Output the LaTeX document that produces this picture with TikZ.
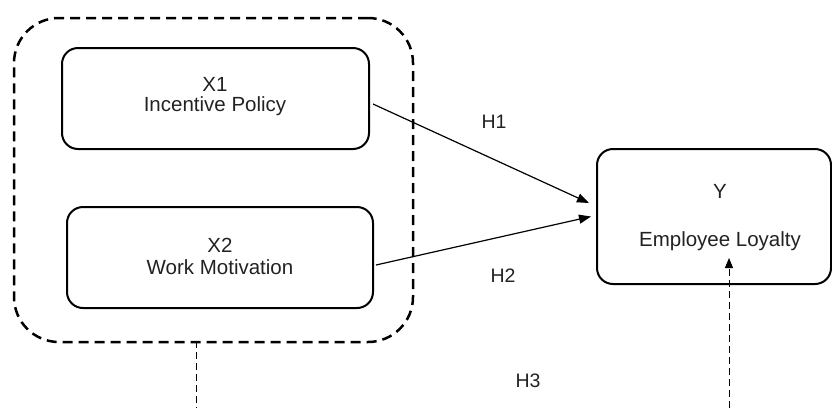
\documentclass[tikz,border=0pt]{standalone}
\usepackage{fontspec}
\setmainfont{Liberation Sans}
\usetikzlibrary{arrows.meta}
\definecolor{txt}{HTML}{222222}
\begin{document}
\begin{tikzpicture}[x=1pt,y=-1pt,
  box/.style={draw=black, line width=2pt, rounded corners=16pt, inner sep=0pt},
  grpbox/.style={draw=black, line width=2.5pt, rounded corners=45pt, dash pattern=on 10pt off 6pt, inner sep=0pt},
  lbl/.style={inner sep=0pt, anchor=base, text=txt, font=\fontsize{20.5}{20}\selectfont},
  hlbl/.style={inner sep=0pt, anchor=base, text=txt, font=\fontsize{19.5}{20}\selectfont},
  conn/.style={draw=black, line width=1.2pt, -{Triangle[length=12pt,width=9pt]}},
  dconn/.style={draw=black, line width=1pt, dash pattern=on 7pt off 4pt}
]
\useasboundingbox (0,0) rectangle (832,408);
\node[grpbox, minimum width=399pt, minimum height=324pt] (grp) at (213.5,180) {};
\node[box, minimum width=307pt, minimum height=101pt] (x1) at (215.5,98.5) {};
\node[box, minimum width=306pt, minimum height=101pt] (x2) at (220,257.5) {};
\node[box, minimum width=234pt, minimum height=135pt] (y) at (714,216.5) {};
\node[lbl] (x1a) at (215,91) {X1};
\node[lbl] (x1b) at (215,111) {Incentive Policy};
\node[lbl] (x2a) at (220,252) {X2};
\node[lbl] (x2b) at (220,274) {Work Motivation};
\node[lbl] (ya) at (720,198) {Y};
\node[lbl] (yb) at (720,246) {Employee Loyalty};
\node[hlbl] (h1) at (494,128) {H1};
\node[hlbl] (h2) at (503,282) {H2};
\node[hlbl] (h3) at (528,387) {H3};
\draw[conn] ([xshift=3pt,yshift=-5.5pt]x1.east) -- ([xshift=-7pt,yshift=13.5pt]y.west);
\draw[conn] ([xshift=2pt,yshift=-7.5pt]x2.east) -- ([xshift=-5pt]y.west);
\coordinate (b1) at (196,408);
\coordinate (b2) at (729,408);
\coordinate (ytip) at (729,258);
\draw[dconn] ([xshift=-17.5pt,yshift=2pt]grp.south) -- (b1);
\draw[dconn, -{Triangle[length=10pt,width=8pt]}] (b2) -- (ytip);
\end{tikzpicture}
\end{document}
